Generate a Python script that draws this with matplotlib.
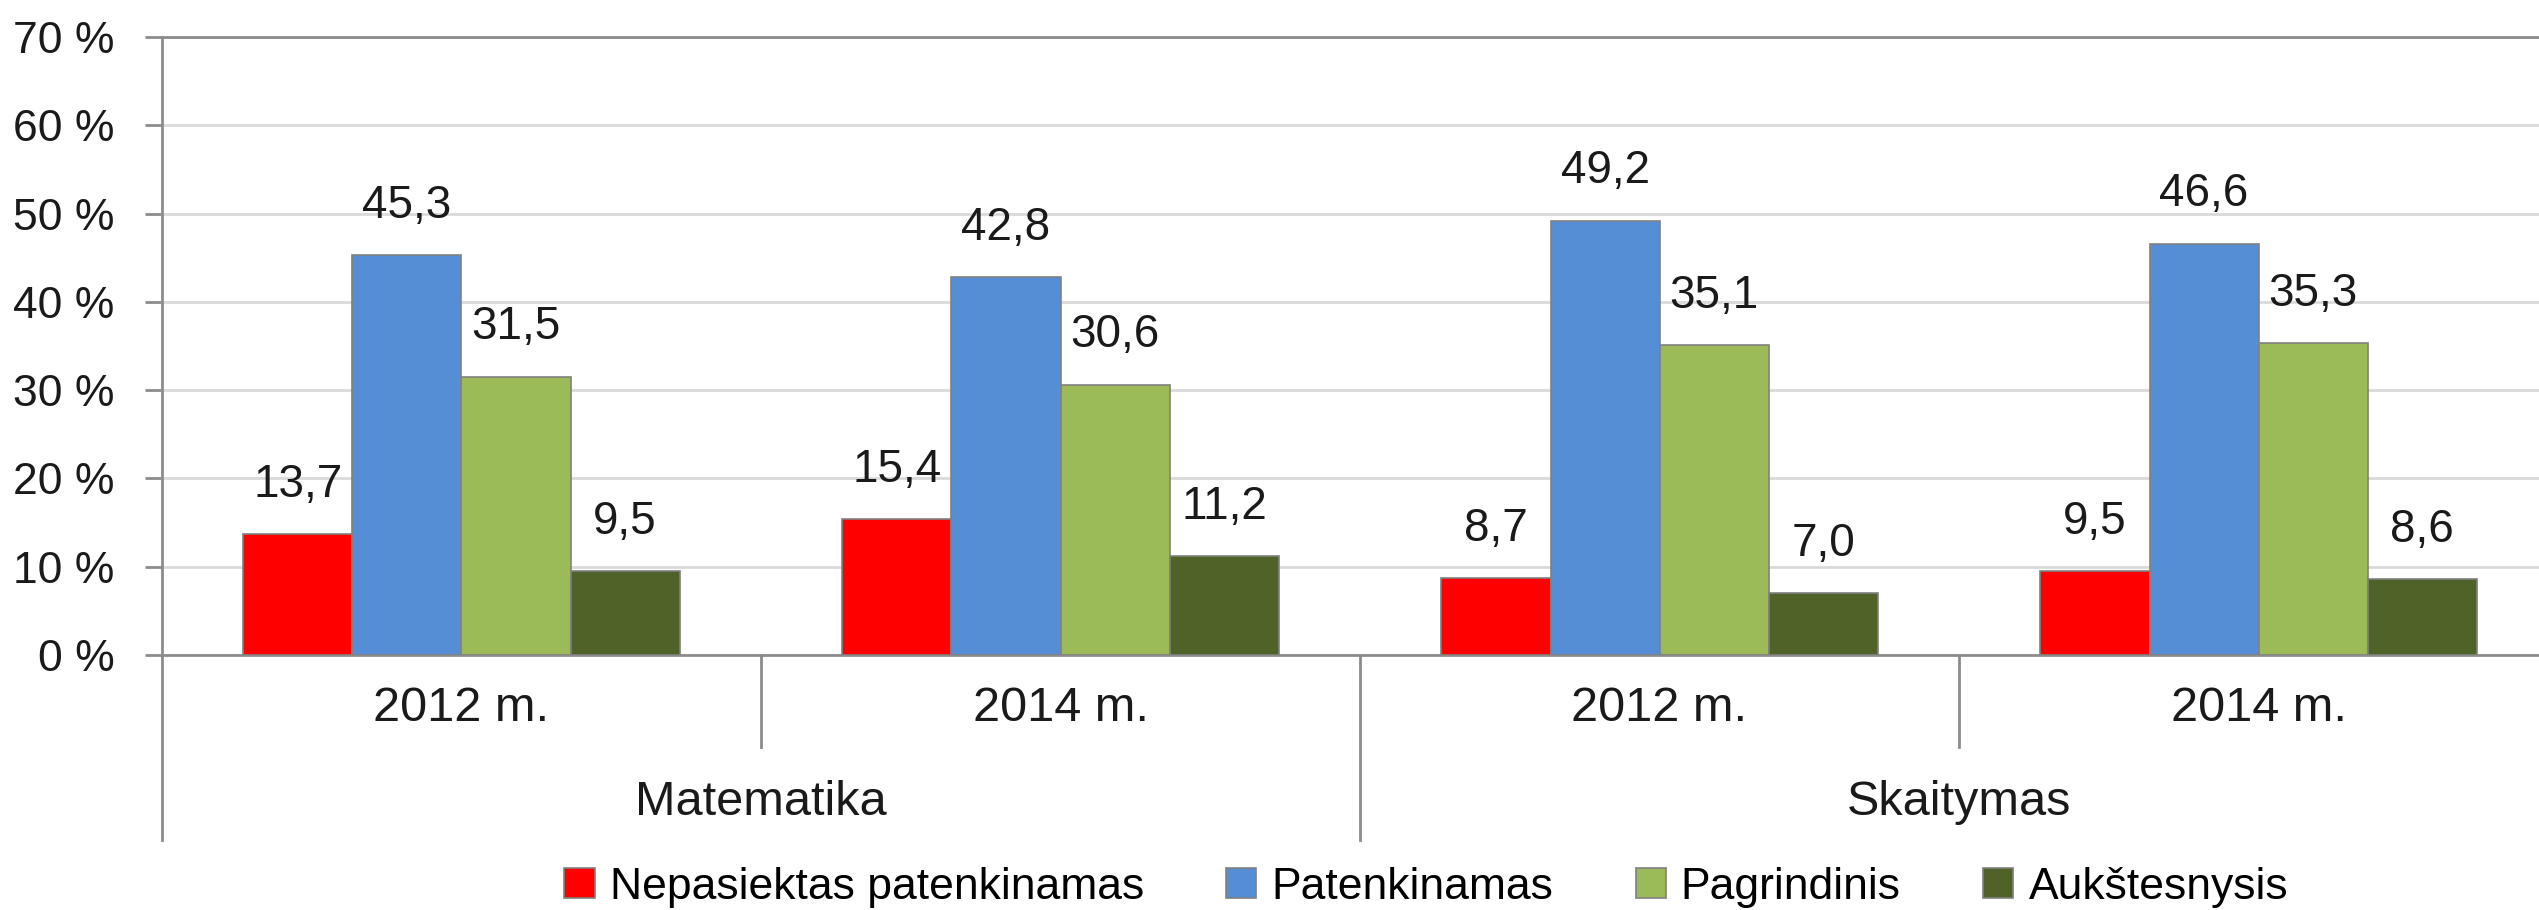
import numpy as np
import matplotlib.pyplot as plt

subjects = ['Matematika', 'Skaitymas']
years = ['2012 m.', '2014 m.', '2012 m.', '2014 m.']
series_names = ['Nepasiektas patenkinamas', 'Patenkinamas', 'Pagrindinis', 'Aukštesnysis']
nepasiektas = [13.7, 15.4, 8.7, 9.5]
patenkinamas = [45.3, 42.8, 49.2, 46.6]
pagrindinis = [31.5, 30.6, 35.1, 35.3]
aukstesnysis = [9.5, 11.2, 7.0, 8.6]
colors = ['#FF0000', '#558ED5', '#9BBB59', '#4F6228']

series = [nepasiektas, patenkinamas, pagrindinis, aukstesnysis]

plt.rcParams['font.family'] = ['Liberation Sans', 'DejaVu Sans']
txt = '#1a1a1a'
axis_grey = '#8C8C8C'

fig = plt.figure(figsize=(25.39, 9.10), dpi=100)
# plot area runs a bit past the right edge of the picture (cropped)
ax = fig.add_axes([0.0638, 0.2802, 0.9437, 0.6791])

x = np.arange(len(years))
w = 0.182
for i, vals in enumerate(series):
    pos = x + (i - 1.5) * w
    ax.bar(pos, vals, w, color=colors[i], edgecolor='#808080', linewidth=1.2,
           label=series_names[i], zorder=3)
    for p, v in zip(pos, vals):
        ax.annotate(f'{v:.1f}'.replace('.', ','), (p, v), xytext=(0, 27),
                    textcoords='offset points', ha='center', va='baseline',
                    fontsize=33, color=txt)

ax.set_xlim(-0.5, 3.5)
ax.set_ylim(0, 70)
ax.set_yticks(range(0, 71, 10))
ax.set_yticklabels([f'{t} %' for t in range(0, 71, 10)], fontsize=32, color=txt)
ax.yaxis.grid(True, color='#D9D9D9', linewidth=2, zorder=0)
ax.tick_params(axis='y', length=12, width=2, color=axis_grey, pad=22)
ax.set_xticks([])
ax.spines['right'].set_visible(False)
for s in ['left', 'bottom', 'top']:
    ax.spines[s].set_color(axis_grey)
    ax.spines[s].set_linewidth(2)

# two-level category axis
tr = ax.get_xaxis_transform()
for xi, lab in zip(x, years):
    ax.text(xi, -0.087, lab, transform=tr, ha='center', va='center', fontsize=35, color=txt)
for k, subj in enumerate(subjects):
    ax.text(0.5 + 2 * k, -0.239, subj, transform=tr, ha='center', va='center', fontsize=35, color=txt)
for xd in [-0.5, 1.5, 3.5]:
    ax.plot([xd, xd], [0, -0.299], transform=tr, color=axis_grey, lw=2, clip_on=False)
for xd in [0.5, 2.5]:
    ax.plot([xd, xd], [0, -0.149], transform=tr, color=axis_grey, lw=2, clip_on=False)

fig.legend(loc='center', bbox_to_anchor=(0.5617, 0.025), ncol=4, frameon=False,
           prop={'size': 32}, handlelength=0.68, handleheight=0.68,
           handletextpad=0.34, columnspacing=1.85, borderpad=0)

fig.savefig('out.png', dpi=100)
